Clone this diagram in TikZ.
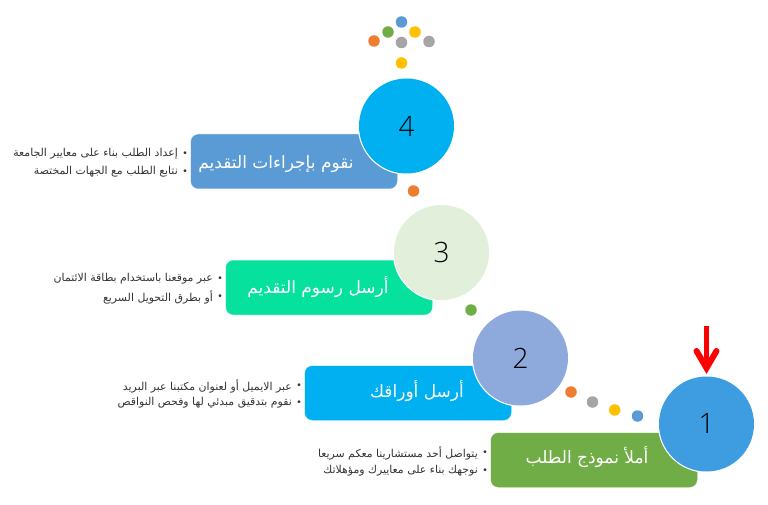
\documentclass[tikz,border=0pt]{standalone}
\usepackage{fontspec}
\setmainfont{Liberation Sans}
\newfontfamily\arabicfont[Script=Arabic]{DejaVu Sans}
\newfontfamily\lightfont{Open Sans Light}
\TeXXeTstate=1
\definecolor{cfour}{HTML}{5B9BD5}
\definecolor{cthree}{HTML}{06E19E}
\definecolor{ctwo}{HTML}{00B0F0}
\definecolor{cone}{HTML}{70AD47}
\definecolor{ringthree}{HTML}{E2EFDA}
\definecolor{ringtwo}{HTML}{8EA9DB}
\definecolor{ringone}{HTML}{3D9DE0}
\definecolor{dblue}{HTML}{5B9BD5}
\definecolor{dorange}{HTML}{ED7D31}
\definecolor{dgreen}{HTML}{70AD47}
\definecolor{dgray}{HTML}{A5A5A5}
\definecolor{dyellow}{HTML}{FFC000}
\tikzset{
  x=1pt,y=-1pt,
  stepbox/.style={preaction={draw=#1!50!white,line width=1pt},fill=#1,rounded corners=7.5pt,minimum width=206pt,minimum height=54pt,inner sep=0pt},
  numcirc/.style={circle,preaction={draw=white,line width=2.4pt},fill=#1,minimum size=95pt,inner sep=0pt,text=black,font=\lightfont\fontsize{28}{28}\selectfont},
  dotc/.style={circle,fill=#1,minimum size=11.5pt,inner sep=0pt},
  steptitle/.style={text=white,font=\arabicfont\fontsize{17}{20}\selectfont,inner sep=0pt},
  bul/.style={anchor=east,text=black!80,font=\arabicfont\fontsize{10.9}{12}\selectfont,inner sep=0pt},
  bulmark/.style={text=black!80,font=\fontsize{10}{12}\selectfont,inner sep=0pt},
}
\newcommand{\rl}[1]{\beginR #1\endR}
\begin{document}
\begin{tikzpicture}
\useasboundingbox (0,0) rectangle (768,505);
\node[stepbox=cfour]  (b4) at (294,161.5) {};
\node[stepbox=cthree] (b3) at (329,287.5) {};
\node[stepbox=ctwo]   (b2) at (408,393) {};
\node[stepbox=cone]   (b1) at (594,460) {};
\node[numcirc=ctwo]  (c4) at (406.5,126) {4};
\node[numcirc=ringthree] (c3) at (441.5,252.5) {3};
\node[numcirc=ringtwo] (c2) at (520.5,358) {2};
\node[numcirc=ringone] (c1) at (706.5,424) {1};
\node[steptitle] (t4) at (276,164.5) {\rl{نقوم بإجراءات التقديم}};
\node[steptitle] (t3) at (318,287) {\rl{أرسل رسوم التقديم}};
\node[steptitle] (t2) at (417,391) {\rl{أرسل أوراقك}};
\node[steptitle] (t1) at (587,457) {\rl{أملأ نموذج الطلب}};
\node[bul] (l4a) at (178,154) {\rl{إعداد الطلب بناء على معايير الجامعة}};
\node[bul] (l4b) at (178,172) {\rl{نتابع الطلب مع الجهات المختصة}};
\node[bul] (l3a) at (213,279) {\rl{عبر موقعنا باستخدام بطاقة الائتمان}};
\node[bul] (l3b) at (213,297) {\rl{أو بطرق التحويل السريع}};
\node[bul] (l2a) at (292,386) {\rl{عبر الايميل أو لعنوان مكتبنا عبر البريد}};
\node[bul] (l2b) at (292,403) {\rl{نقوم بتدقيق مبدئي لها وفحص النواقص}};
\node[bul] (l1a) at (478,453) {\rl{يتواصل أحد مستشارينا معكم سريعا}};
\node[bul] (l1b) at (478,471) {\rl{نوجهك بناء على معاييرك ومؤهلاتك}};
\foreach \n/\x/\y in {m4a/185/154,m4b/185/172,m3a/220/279,m3b/220/297,m2a/299/386,m2b/299/403,m1a/485/453,m1b/485/471}
  \node[bulmark] (\n) at (\x,\y) {•};
\foreach \n/\x/\y/\c in {d1/401.5/22/dblue,d2/388/32/dgreen,d3/415/32/dyellow,d4/374/41/dorange,d5/401.5/42.5/dgray,d6/429/41.5/dgray,d7/401.5/63/dyellow,d8/413.5/191/dorange,d9/471/310/dgreen,d10/571/392/dorange,d11/592.5/402/dgray,d12/614.7/410/dyellow,d13/637.5/416/dblue}
  \node[dotc=\c] (\n) at (\x,\y) {};
\coordinate (arrstart) at (706.5,326);
\coordinate (arrtip) at (706.5,368);
\coordinate (arrl) at (696.5,351);
\coordinate (arrr) at (716.5,351);
\draw[red,line width=5.5pt] (arrstart) -- (arrtip);
\draw[red,line width=6pt,line cap=round,line join=miter] (arrl) -- (arrtip) -- (arrr);
\end{tikzpicture}
\end{document}
